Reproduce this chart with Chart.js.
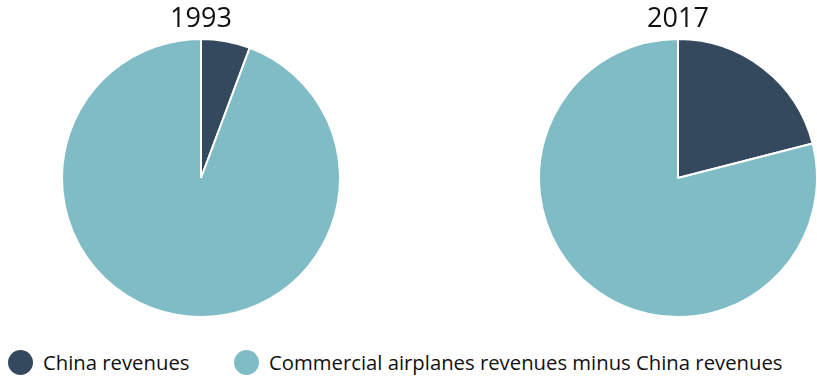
<!DOCTYPE html>
<html>
<head>
<meta charset="utf-8">
<script src="https://cdn.jsdelivr.net/npm/chart.js@4.4.1/dist/chart.umd.min.js"></script>
<style>
  html, body { margin: 0; padding: 0; background: #fff; }
  #wrap { position: relative; width: 817px; height: 377px; overflow: hidden; font-family: "Open Sans", sans-serif; }
  .pie { position: absolute; top: 0; width: 300px; height: 318px; }
  #pie-1993 { left: 51px; }
  #pie-2017 { left: 528px; }
  .legend { position: absolute; top: 348px; display: flex; align-items: center; font-size: 20.3px; color: #111; }
  .legend .dot { width: 25px; height: 25px; border-radius: 50%; margin-right: 10px; }
</style>
</head>
<body>
<div id="wrap">
  <div class="pie" id="pie-1993"><canvas id="c1993"></canvas></div>
  <div class="pie" id="pie-2017"><canvas id="c2017"></canvas></div>
  <div class="legend" style="left:8px"><span class="dot" style="background:#34485e"></span>China revenues</div>
  <div class="legend" style="left:234px"><span class="dot" style="background:#7fbcc6"></span>Commercial airplanes revenues minus China revenues</div>
</div>
<script>
const years = ['1993', '2017'];
const categories = ['China revenues', 'Commercial airplanes revenues minus China revenues'];
// share of commercial airplane revenues, percent
const chinaShare = [5.7, 21];
const otherShare = [94.3, 79];
const colors = ['#34485e', '#7fbcc6'];

function drawPie(canvasId, i) {
    const ctx = document.getElementById(canvasId).getContext('2d');
    new Chart(ctx, {
        type: 'pie',
        data: {
            labels: categories,
            datasets: [{
                data: [chinaShare[i], otherShare[i]],
                backgroundColor: colors,
                borderColor: '#ffffff',
                borderWidth: 2,
                hoverOffset: 0
            }]
        },
        options: {
            responsive: true,
            maintainAspectRatio: false,
            animation: false,
            layout: { padding: 0 },
            plugins: {
                legend: { display: false },
                tooltip: { enabled: false },
                title: {
                    display: true,
                    text: years[i],
                    color: '#111',
                    font: { family: '"Open Sans", sans-serif', size: 27, weight: 'normal', lineHeight: 1.2 },
                    padding: { top: 3, bottom: 2.6 }
                }
            }
        }
    });
}

drawPie('c1993', 0);
drawPie('c2017', 1);
</script>
</body>
</html>
